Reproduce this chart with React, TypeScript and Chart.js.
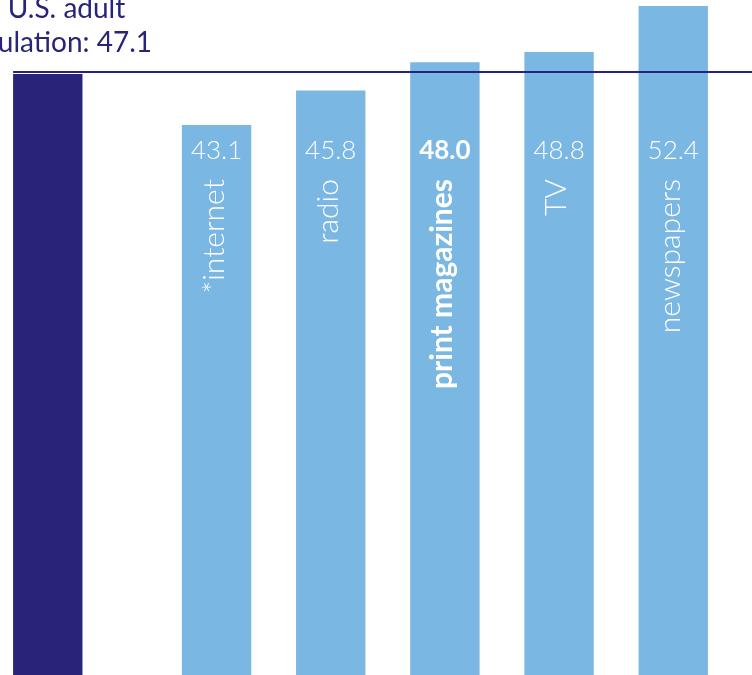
import React, { useEffect, useRef } from "react";
import { Chart, registerables } from "chart.js";

Chart.register(...registerables);

// ---- data ----
const populationLabelLines = ["U.S. adult", "population: 47.1"];
const populationCategory = "U.S. adult population";
const populationMedian = 47.1;
const mediaCategories = ["*internet", "radio", "print magazines", "TV", "newspapers"];
const mediaValues = [43.1, 45.8, 48.0, 48.8, 52.4];
const highlightedCategory = "print magazines";

const NAVY = "#27247a";
const LIGHT = "#7ab7e3";
const FONT = "Lato, 'Open Sans', sans-serif";

const labelsPlugin = {
  id: "mediaLabels",
  afterDatasetsDraw(chart: any) {
    const ctx = chart.ctx;
    const yScale = chart.scales.y;
    const navyMeta = chart.getDatasetMeta(0);
    const lightMeta = chart.getDatasetMeta(1);
    const navyBar = navyMeta.data[0] as any;

    // reference line at the population median
    const yLine = Math.round(yScale.getPixelForValue(populationMedian)) - 2;
    ctx.save();
    ctx.strokeStyle = NAVY;
    ctx.lineWidth = 2;
    ctx.beginPath();
    ctx.moveTo(navyBar.x - navyBar.width / 2, yLine);
    ctx.lineTo(chart.width, yLine);
    ctx.stroke();

    // population caption
    ctx.fillStyle = NAVY;
    ctx.font = `400 28px ${FONT}`;
    ctx.textBaseline = "alphabetic";
    ctx.textAlign = "center";
    ctx.fillText(populationLabelLines[0], 66.5, 18);
    ctx.textAlign = "right";
    ctx.fillText(populationLabelLines[1], 152, 52);

    // value + category labels inside the light bars
    mediaCategories.forEach((cat, i) => {
      const bar = lightMeta.data[i + 1] as any;
      if (!bar) return;
      const bold = cat === highlightedCategory;
      ctx.fillStyle = "#ffffff";
      ctx.textAlign = "center";
      ctx.textBaseline = "alphabetic";
      ctx.font = `${bold ? 700 : 300} 26px ${FONT}`;
      ctx.fillText(mediaValues[i].toFixed(1), bar.x, 159);

      ctx.save();
      ctx.translate(bar.x + 7, 179);
      ctx.rotate(-Math.PI / 2);
      ctx.textAlign = "right";
      ctx.font = `${bold ? 700 : 300} 30px ${FONT}`;
      ctx.fillText(cat, 0, 0);
      ctx.restore();
    });
    ctx.restore();
  },
};

export default function App() {
  const canvasRef = useRef<HTMLCanvasElement | null>(null);

  useEffect(() => {
    if (!canvasRef.current) return;
    const labels = [populationCategory, ...mediaCategories];
    const chart = new Chart(canvasRef.current, {
      type: "bar",
      data: {
        labels,
        datasets: [
          {
            label: "U.S. adult population",
            data: [populationMedian, ...mediaCategories.map(() => null)],
            backgroundColor: NAVY,
            categoryPercentage: 0.957,
            barPercentage: 1.27,
            clip: false as any,
          },
          {
            label: "Median age of audience",
            data: [null, ...mediaValues],
            backgroundColor: LIGHT,
            categoryPercentage: 0.957,
            barPercentage: 1.27,
            clip: false as any,
          },
        ],
      },
      options: {
        responsive: false,
        animation: false,
        layout: { padding: { left: 18, right: 49, top: 0, bottom: 0 } },
        plugins: {
          legend: { display: false },
          tooltip: { enabled: false },
          title: { display: false },
        },
        scales: {
          x: { display: false, grid: { display: false } },
          y: { display: false, min: 0, max: 52.87, grid: { display: false } },
        },
      },
      plugins: [labelsPlugin],
    });
    return () => chart.destroy();
  }, []);

  return (
    <div
      style={{
        position: "fixed",
        top: 0,
        left: 0,
        width: 752,
        height: 675,
        overflow: "hidden",
        background: "#ffffff",
      }}
    >
      <canvas ref={canvasRef} width={752} height={677} style={{ display: "block" }} />
    </div>
  );
}
